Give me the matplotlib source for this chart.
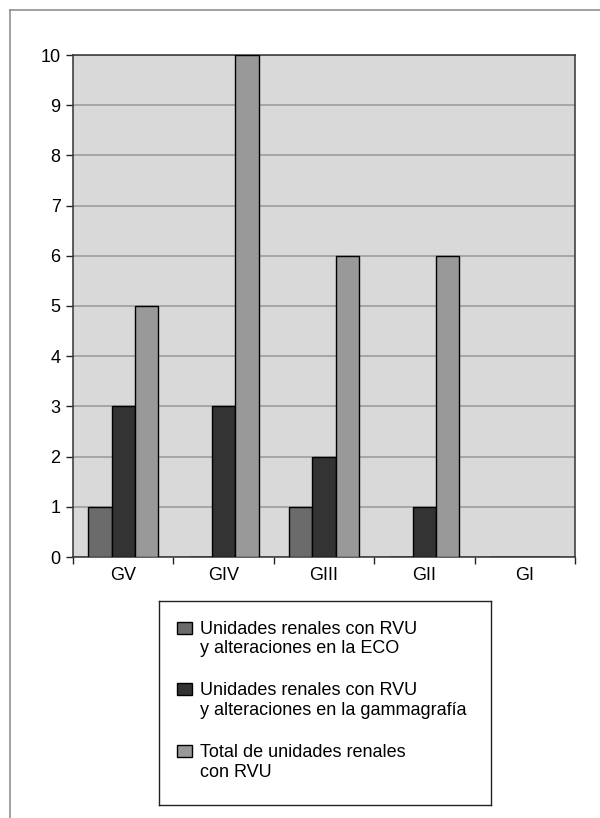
import numpy as np
import matplotlib.pyplot as plt
from matplotlib.patches import Rectangle
from matplotlib.lines import Line2D

plt.rcParams['font.family'] = ['Liberation Sans', 'DejaVu Sans']
plt.rcParams['font.size'] = 13

# Data
grades = ['GV', 'GIV', 'GIII', 'GII', 'GI']
eco = [1, 0, 1, 0, 0]
gamma = [3, 3, 2, 1, 0]
total = [5, 10, 6, 6, 0]
series_names = ['Unidades renales con RVU\ny alteraciones en la ECO',
                'Unidades renales con RVU\ny alteraciones en la gammagrafía',
                'Total de unidades renales\ncon RVU']
colors = ['#6b6b6b', '#333333', '#999999']

W, H = 600, 818
fig = plt.figure(figsize=(W / 100, H / 100), dpi=100)

# outer frame (only top and left edges visible)
fig.add_artist(Line2D([9.5 / W, 1], [1 - 9.5 / H, 1 - 9.5 / H], color='#888888', lw=1.1))
fig.add_artist(Line2D([9.5 / W, 9.5 / W], [1 - 9.5 / H, 0], color='#888888', lw=1.1))

ax = fig.add_axes([73 / W, 1 - 557 / H, 502 / W, 502 / H])
ax.set_facecolor('#d9d9d9')

x = np.arange(len(grades))
bw = 0.232
for k, vals in enumerate([eco, gamma, total]):
    ax.bar(x + (k - 1) * bw, vals, width=bw, color=colors[k],
           edgecolor='black', linewidth=1, zorder=3)

ax.set_xlim(-0.5, len(grades) - 0.5)
ax.set_ylim(0, 10)
ax.set_yticks(range(0, 11))
ax.yaxis.grid(True, color='#999999', linewidth=1.1, zorder=1)
ax.set_axisbelow(True)

ax.set_xticks(x)
ax.set_xticklabels(grades)
ax.set_xticks(np.arange(-0.5, len(grades)), minor=True)
ax.tick_params(axis='x', which='major', length=0, pad=7)
ax.tick_params(axis='x', which='minor', length=5, width=1, color='#222222')
ax.tick_params(axis='y', length=5, width=1, color='#222222', pad=4)
for s in ax.spines.values():
    s.set_color('#333333')
    s.set_linewidth(1.1)

# legend box
lax = fig.add_axes([159 / W, 1 - 805 / H, 332 / W, 204 / H])
lax.set_xlim(159, 491)
lax.set_ylim(805, 601)
lax.set_xticks([])
lax.set_yticks([])
for s in lax.spines.values():
    s.set_color('#222222')
    s.set_linewidth(1)
tops = [621.5, 683, 745]
for k, name in enumerate(series_names):
    lax.add_patch(Rectangle((177, tops[k]), 15, 12, facecolor=colors[k],
                            edgecolor='black', linewidth=1))
    lax.text(200, tops[k] - 1, name, va='top', ha='left', fontsize=13,
             linespacing=1.2)

fig.savefig('out.png', dpi=100)
